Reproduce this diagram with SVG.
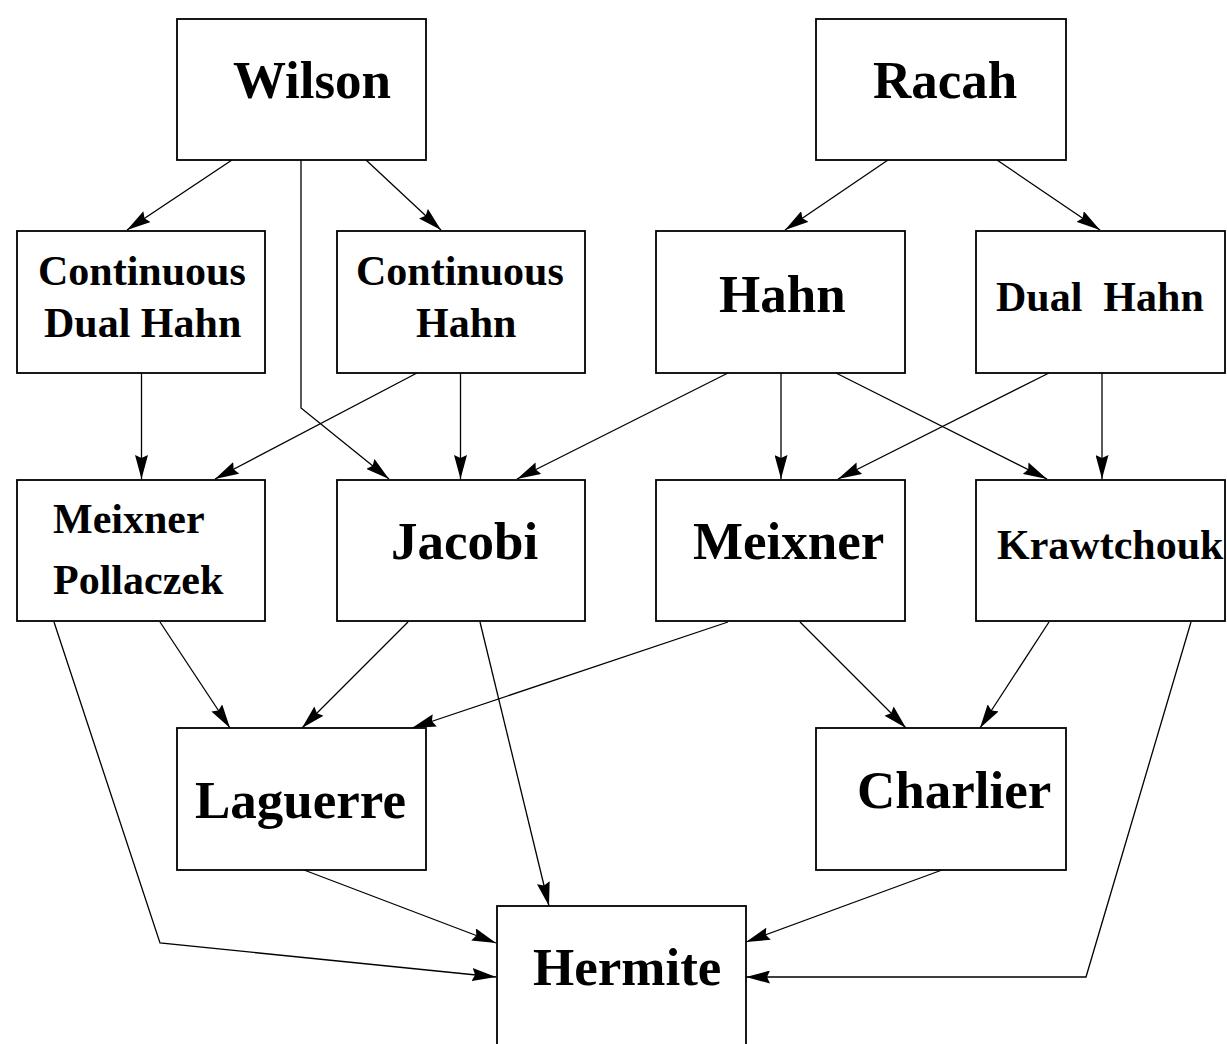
<svg xmlns="http://www.w3.org/2000/svg" width="1227" height="1044" viewBox="0 0 1227 1044">
<style>
.box{fill:#fff;stroke:#000;stroke-width:1.8}
.t{font-family:"Liberation Serif","Times New Roman",serif;font-weight:bold;fill:#000}
.big{font-size:53px}
.sm{font-size:42px}
.c{fill:none;stroke:#000;stroke-width:1.3}
</style>
<defs>
<marker id="ah" markerUnits="userSpaceOnUse" viewBox="0 0 24 13" refX="24" refY="6.5" markerWidth="24" markerHeight="13" orient="auto">
<path d="M0,0 L24,6.5 L0,13 L3,6.5 z" fill="#000"/>
</marker>
</defs>
<rect width="1227" height="1044" fill="#fff"/>
<g id="connectors">
<path class="c" marker-end="url(#ah)" d="M232,160 L127,230"/>
<path class="c" marker-end="url(#ah)" d="M366,160 L441,230"/>
<path class="c" marker-end="url(#ah)" d="M301,160 L301,408 L389,479"/>
<path class="c" marker-end="url(#ah)" d="M888,160 L785,230"/>
<path class="c" marker-end="url(#ah)" d="M997,160 L1100,230"/>
<path class="c" marker-end="url(#ah)" d="M141.5,373 L141.5,479"/>
<path class="c" marker-end="url(#ah)" d="M417,373 L215,479"/>
<path class="c" marker-end="url(#ah)" d="M460.5,373 L460.5,479"/>
<path class="c" marker-end="url(#ah)" d="M728,373 L517,479"/>
<path class="c" marker-end="url(#ah)" d="M781,373 L781,479"/>
<path class="c" marker-end="url(#ah)" d="M836,373 L1047,479"/>
<path class="c" marker-end="url(#ah)" d="M1049,373 L838,479"/>
<path class="c" marker-end="url(#ah)" d="M1102,373 L1102,479"/>
<path class="c" marker-end="url(#ah)" d="M160,622 L230,728"/>
<path class="c" marker-end="url(#ah)" d="M54,622 L160,943 L496,977"/>
<path class="c" marker-end="url(#ah)" d="M408,622 L302,728"/>
<path class="c" marker-end="url(#ah)" d="M480,622 L549,906"/>
<path class="c" marker-end="url(#ah)" d="M728,622 L412,728"/>
<path class="c" marker-end="url(#ah)" d="M800,622 L906,728"/>
<path class="c" marker-end="url(#ah)" d="M1049,622 L980,728"/>
<path class="c" marker-end="url(#ah)" d="M1191,622 L1086,977 L746,977"/>
<path class="c" marker-end="url(#ah)" d="M304,870 L496,943"/>
<path class="c" marker-end="url(#ah)" d="M942,870 L746,942"/>
</g>
<g id="wilson"><rect class="box" x="177" y="19" width="249" height="141"/><text class="t big" x="233" y="98">Wilson</text></g>
<g id="racah"><rect class="box" x="816" y="19" width="250" height="141"/><text class="t big" x="873" y="98">Racah</text></g>
<g id="continuous-dual-hahn"><rect class="box" x="17" y="231" width="248" height="142"/><text class="t sm" x="38" y="285">Continuous</text><text class="t sm" x="44" y="337">Dual Hahn</text></g>
<g id="continuous-hahn"><rect class="box" x="337" y="231" width="248" height="142"/><text class="t sm" x="356" y="285">Continuous</text><text class="t sm" x="416" y="337">Hahn</text></g>
<g id="hahn"><rect class="box" x="656" y="231" width="249" height="142"/><text class="t big" x="719" y="312" font-size="54">Hahn</text></g>
<g id="dual-hahn"><rect class="box" x="976" y="231" width="249" height="142"/><text class="t sm" x="996" y="311" xml:space="preserve" style="white-space:pre">Dual  Hahn</text></g>
<g id="meixner-pollaczek"><rect class="box" x="17" y="480" width="248" height="141"/><text class="t sm" x="53" y="533">Meixner</text><text class="t sm" x="53" y="594">Pollaczek</text></g>
<g id="jacobi"><rect class="box" x="337" y="480" width="248" height="141"/><text class="t big" x="391" y="559">Jacobi</text></g>
<g id="meixner"><rect class="box" x="656" y="480" width="249" height="141"/><text class="t big" x="693" y="559">Meixner</text></g>
<g id="krawtchouk"><rect class="box" x="976" y="480" width="249" height="141"/><text class="t sm" x="997" y="559">Krawtchouk</text></g>
<g id="laguerre"><rect class="box" x="177" y="728" width="249" height="142"/><text class="t big" x="195" y="818">Laguerre</text></g>
<g id="charlier"><rect class="box" x="816" y="728" width="250" height="142"/><text class="t big" x="857" y="808">Charlier</text></g>
<g id="hermite"><rect class="box" x="497" y="906" width="249" height="150"/><text class="t big" x="533" y="985">Hermite</text></g>
</svg>
